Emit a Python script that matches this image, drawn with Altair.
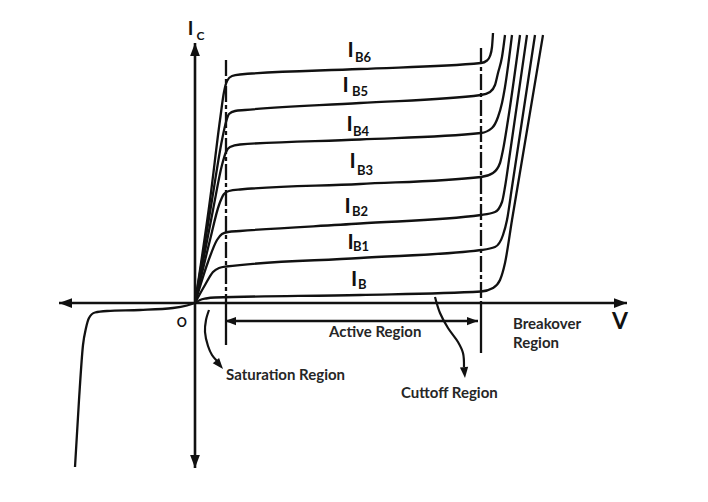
import altair as alt
import pandas as pd

# ---------------- data (diagram units: V to the right, Ic upward, origin at O) ----------------
CURVE_IB  = [(0, 0), (5, 3), (11, 4.5), (20, 5.5), (165, 8), (286, 11.5), (298, 15), (305, 23), (310, 40), (317, 83), (348, 268)]
CURVE_IB1 = [(0, 0), (10, 18), (18, 31), (24, 35), (31, 36.5), (165, 45), (286, 53), (300, 56), (308, 68), (312, 83), (317, 116), (340, 268)]
CURVE_IB2 = [(0, 0), (13, 41), (22, 63), (27, 69), (33, 71), (45, 72), (165, 79.5), (286, 88), (300, 91), (307, 101), (310, 116), (315, 150), (332, 268)]
CURVE_IB3 = [(0, 0), (15, 63), (24, 98), (29, 109), (34, 112), (45, 113.5), (165, 119), (286, 126), (298, 130), (305, 140), (308, 153), (313, 183), (325, 268)]
CURVE_IB4 = [(0, 0), (18, 93), (27, 138), (31, 151), (35, 156), (45, 158.5), (165, 163.5), (286, 170), (297, 175), (303, 186), (307, 200), (310, 216), (317, 268)]
CURVE_IB5 = [(0, 0), (17, 103), (27, 163), (31, 181), (34, 189), (40, 192), (50, 193), (165, 200), (286, 208), (295, 211), (300, 218), (303, 230), (307, 246), (310, 268)]
CURVE_IB6 = [(0, 0), (15, 103), (25, 183), (29, 211), (32, 222), (37, 227), (45, 228.5), (165, 234), (286, 240), (292, 242.5), (295, 247), (297, 256), (298, 270)]
REVERSE_CURVE = [(-120, -164), (-116, -97), (-112, -42), (-109, -25), (-106, -15), (-100, -9.5),
                 (-88, -8), (-55, -7), (-22, -5), (-8, -2.5), (0, 0)]

H_AXIS = [(-136, 0), (432, 0)]
V_AXIS = [(0, 260), (0, -165)]
SAT_DASH = [(31, 243), (31, 0)]
SAT_SOLID = [(31, 0), (31, -42)]
BRK_DASH = [(286, 255), (286, 0)]
BRK_SOLID = [(286, 0), (286, -50)]
ACTIVE_SPAN = [(30, -18), (283, -18)]
SAT_POINTER = [(14, -7), (11, -17), (10, -29), (13, -43), (17, -52), (22, -58)]
CUT_POINTER = [(240, 6), (245, -10), (253, -25), (263, -39), (268, -50), (269, -64)]

# arrow tips: (name, v, i, direction in degrees clockwise from "right")
ARROW_TIPS = [("axis", -136, 0, 180), ("axis", 432, 0, 0), ("axis", 0, 260, 270), ("axis", 0, -165, 90),
              ("span", 30, -18, 180), ("span", 283, -18, 0), ("pointer", 28, -66, 50), ("pointer", 270, -75, 85)]

CURVE_SUBS = ["B6", "B5", "B4", "B3", "B2", "B1", "B"]
CURVE_I_POS = [(155.5, 252.5), (150.5, 217.5), (154.5, 178), (157.5, 141.3), (152.5, 96), (155.5, 60), (159, 23)]
CURVE_SUB_POS = [(160, 245.5), (157, 211), (158, 171.3), (162, 132.2), (157, 91.3), (158, 56.3), (163, 18.3)]

REGION_TEXT = ["Active Region", "Saturation Region", "Cuttoff Region", "Breakover", "Region"]
REGION_POS = [(134, -29), (31, -72), (206, -90), (318, -21), (318, -40)]

INK = "#111111"
TXT = "#262626"
FONT = "Lato"


def frame(named):
    rows = []
    for name, pts in named.items():
        for k, (v, i) in enumerate(pts):
            rows.append({"name": name, "k": k, "v": v, "i": i})
    return pd.DataFrame(rows)


X = alt.X("v:Q", scale=alt.Scale(domain=[-187, 505], nice=False, zero=False), axis=None)
Y = alt.Y("i:Q", scale=alt.Scale(domain=[-191, 295], nice=False, zero=False), axis=None)

curves = alt.Chart(frame({
    "IB": CURVE_IB, "IB1": CURVE_IB1, "IB2": CURVE_IB2, "IB3": CURVE_IB3,
    "IB4": CURVE_IB4, "IB5": CURVE_IB5, "IB6": CURVE_IB6, "rev": REVERSE_CURVE,
})).mark_line(interpolate="monotone", color=INK, strokeWidth=2.3).encode(
    X, Y, detail="name:N", order="k:Q")

axes = alt.Chart(frame({"h": H_AXIS, "v": V_AXIS})).mark_line(color=INK, strokeWidth=2.6).encode(
    X, Y, detail="name:N", order="k:Q")

dashed = alt.Chart(frame({"sat": SAT_DASH, "brk": BRK_DASH})).mark_line(
    color=INK, strokeWidth=2.3, strokeDash=[16, 3, 4, 3]).encode(X, Y, detail="name:N", order="k:Q")

solid = alt.Chart(frame({"sat": SAT_SOLID, "brk": BRK_SOLID, "act": ACTIVE_SPAN})).mark_line(
    color=INK, strokeWidth=2.3).encode(X, Y, detail="name:N", order="k:Q")

pointers = alt.Chart(frame({"sat": SAT_POINTER, "cut": CUT_POINTER})).mark_line(
    interpolate="catmull-rom", color=INK, strokeWidth=2.2).encode(X, Y, detail="name:N", order="k:Q")

tip_len = {"axis": 13, "span": 11, "pointer": 11}
tips_df = pd.DataFrame([{"v": v, "i": i, "a": a, "s": tip_len[n] ** 2} for n, v, i, a in ARROW_TIPS])
tips = alt.Chart(tips_df).mark_point(
    shape="M0,0L-2,-0.75L-2,0.75Z", filled=True, opacity=1, strokeWidth=0, color=INK
).encode(X, Y, angle=alt.Angle("a:Q", scale=None), size=alt.Size("s:Q", scale=None))

big_i = pd.DataFrame([{"v": v, "i": i, "t": "I", "fs": 21} for v, i in CURVE_I_POS] +
                     [{"v": -4.5, "i": 274.5, "t": "I", "fs": 19}])
subs = pd.DataFrame([{"v": v, "i": i, "t": t, "fs": 13} for (v, i), t in zip(CURVE_SUB_POS, CURVE_SUBS)] +
                    [{"v": 1.5, "i": 267, "t": "C", "fs": 12}])

big_i_text = alt.Chart(big_i).mark_text(font=FONT, fontWeight="bold", align="center", baseline="middle",
                                        color=INK).encode(X, Y, text="t:N", size=alt.Size("fs:Q", scale=None))
sub_text = alt.Chart(subs).mark_text(font=FONT, fontWeight="bold", align="left", baseline="middle",
                                     color=INK).encode(X, Y, text="t:N", size=alt.Size("fs:Q", scale=None))

regions = pd.DataFrame([{"v": v, "i": i, "t": t} for (v, i), t in zip(REGION_POS, REGION_TEXT)])
region_text = alt.Chart(regions).mark_text(font=FONT, fontWeight="bold", fontSize=15, align="left",
                                           baseline="middle", color=TXT).encode(X, Y, text="t:N")

marks = pd.DataFrame([{"v": 425, "i": -19, "t": "V", "fs": 23}, {"v": -13.3, "i": -19.5, "t": "O", "fs": 12.5}])
mark_text = alt.Chart(marks).mark_text(font=FONT, fontWeight="bold", align="center", baseline="middle",
                                       color=INK).encode(X, Y, text="t:N", size=alt.Size("fs:Q", scale=None))

chart = alt.layer(
    axes, dashed, solid, curves, pointers, tips, big_i_text, sub_text, region_text, mark_text
).properties(
    width=692, height=486, padding=0, autosize=alt.AutoSizeParams(type="none")
).configure_view(strokeWidth=0)

chart.save("out.html", embed_options={"renderer": "svg", "actions": False})
